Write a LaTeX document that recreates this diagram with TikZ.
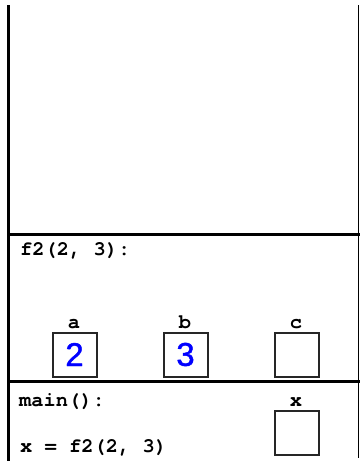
\documentclass[tikz,border=0pt]{standalone}
\usepackage{fontspec}
\setmonofont{texgyrecursor}[Extension=.otf, UprightFont=*-regular, BoldFont=*-bold]
\newfontfamily\digitfont{Liberation Sans}[FakeBold=1.2]
\begin{document}
\begin{tikzpicture}[x=1pt,y=-1pt,
  code/.style={font=\ttfamily\bfseries\fontsize{20.4}{20.4}\selectfont, anchor=west, inner sep=0pt},
  lbl/.style={font=\ttfamily\bfseries\fontsize{20.4}{20.4}\selectfont, inner sep=0pt, anchor=base},
  cell/.style={draw=black!85, line width=2pt, minimum width=44pt, minimum height=44pt, inner sep=0pt, anchor=north west,
    font=\digitfont\fontsize{33}{33}\selectfont, text=blue},
  frame/.style={line width=3.5pt},
  rframe/.style={line width=1.8pt}]
\useasboundingbox (0,0) rectangle (360,461);
% frame lines
\coordinate (tl) at (8.5,5);
\coordinate (bl) at (8.5,461);
\coordinate (tr) at (358.5,5);
\coordinate (br) at (358.5,458);
\coordinate (h1l) at (7,234.5);
\coordinate (h1r) at (360,234.5);
\coordinate (h2l) at (7,381.5);
\coordinate (h2r) at (360,381.5);
\draw[frame] (tl) -- (bl);
\draw[rframe] (tr) -- (br);
\draw[frame] (h1l) -- (h1r);
\draw[frame] (h2l) -- (h2r);
% f2 frame
\node[code] (f2) at (20,251) {f2(2, 3):};
\node[cell] (a) at (51.5,331.5) {2};
\node[cell] (b) at (162.5,331.5) {3};
\node[cell] (c) at (273.5,331.5) {};
\node[lbl] (la) at (74,328) {a};
\node[lbl] (lb) at (185,328) {b};
\node[lbl] (lc) at (296,328) {c};
% main frame
\node[code] (main) at (19,402) {main():};
\node[code] (call) at (20,448) {x = f2(2, 3)};
\node[cell] (x) at (273.5,410) {};
\node[lbl] (lx) at (296,406) {x};
\end{tikzpicture}
\end{document}
